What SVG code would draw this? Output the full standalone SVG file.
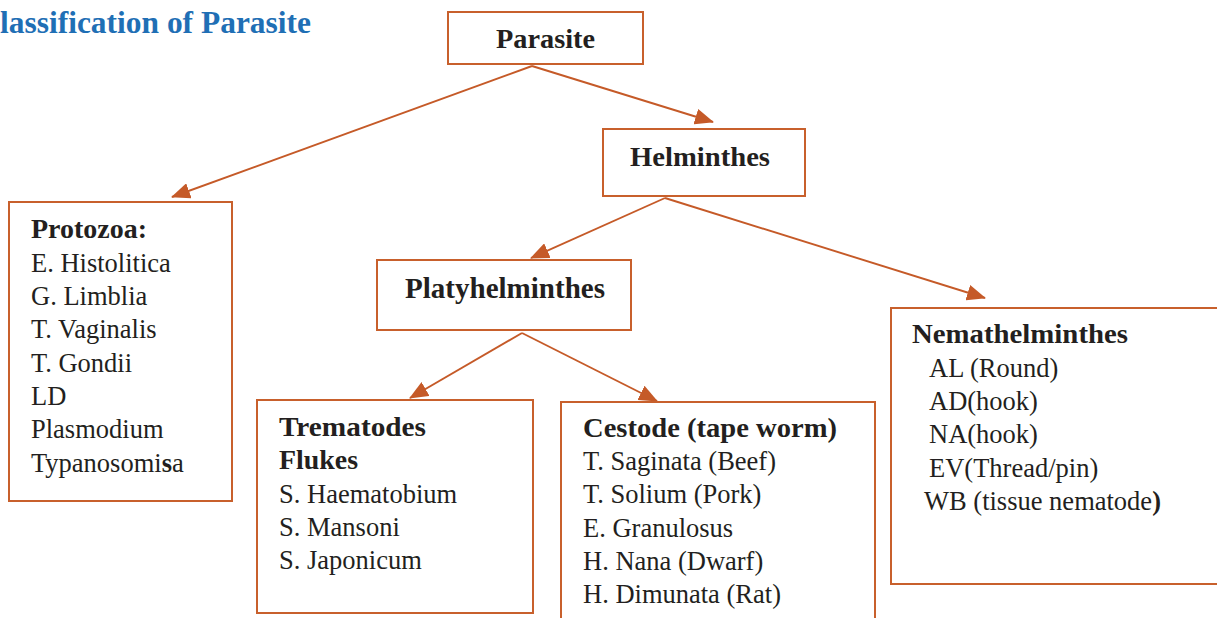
<svg xmlns="http://www.w3.org/2000/svg" width="1217" height="618" viewBox="0 0 1217 618">
<style>
.box{fill:#fff;stroke:#c8602c;stroke-width:2}
.t{font-family:"Liberation Serif",serif;font-size:26.5px;fill:#231f20}
.b{font-weight:bold}
.title{font-family:"Liberation Serif",serif;font-size:31px;font-weight:bold;fill:#1f6fb5}
.c{fill:none;stroke:#c55a28;stroke-width:1.9}
</style>
<defs>
<marker id="ah" markerUnits="userSpaceOnUse" markerWidth="20" markerHeight="16" refX="18" refY="8" orient="auto">
<path d="M0,0 L19,8 L0,16 Z" fill="#c55a28"/>
</marker>
</defs>
<rect width="1217" height="618" fill="#fff"/>
<text class="title" x="0" y="33" textLength="311" lengthAdjust="spacingAndGlyphs">lassification of Parasite</text>

<g id="connectors">
<line class="c" x1="532" y1="66" x2="172" y2="197" marker-end="url(#ah)"/>
<line class="c" x1="532" y1="66" x2="713" y2="122" marker-end="url(#ah)"/>
<line class="c" x1="665" y1="198" x2="531" y2="258" marker-end="url(#ah)"/>
<line class="c" x1="665" y1="198" x2="985" y2="298" marker-end="url(#ah)"/>
<line class="c" x1="522" y1="333" x2="410" y2="398" marker-end="url(#ah)"/>
<line class="c" x1="522" y1="333" x2="657" y2="401" marker-end="url(#ah)"/>
</g>

<g id="parasite">
<rect class="box" x="448" y="12" width="195" height="52"/>
<text class="t b" x="496" y="48" textLength="99" lengthAdjust="spacingAndGlyphs" style="font-size:27px">Parasite</text>
</g>

<g id="helminthes">
<rect class="box" x="603" y="129" width="202" height="67"/>
<text class="t b" x="630" y="166" textLength="140" lengthAdjust="spacingAndGlyphs" style="font-size:27px">Helminthes</text>
</g>

<g id="protozoa">
<rect class="box" x="9" y="202" width="223" height="299"/>
<text class="t b" x="31" y="238" textLength="116" lengthAdjust="spacingAndGlyphs">Protozoa:</text>
<text class="t" x="31" y="272">E. Histolitica</text>
<text class="t" x="31" y="305">G. Limblia</text>
<text class="t" x="31" y="338">T. Vaginalis</text>
<text class="t" x="31" y="372">T. Gondii</text>
<text class="t" x="31" y="405">LD</text>
<text class="t" x="31" y="438">Plasmodium</text>
<text class="t" x="31" y="472">Typanosomi<tspan class="b">s</tspan>a</text>
</g>

<g id="platyhelminthes">
<rect class="box" x="377" y="260" width="254" height="70"/>
<text class="t b" x="405" y="298" textLength="200" lengthAdjust="spacingAndGlyphs" style="font-size:29px">Platyhelminthes</text>
</g>

<g id="nemathelminthes">
<rect class="box" x="891" y="308" width="340" height="276"/>
<text class="t b" x="912" y="343" textLength="216" lengthAdjust="spacingAndGlyphs">Nemathelminthes</text>
<text class="t" x="929" y="377">AL (Round)</text>
<text class="t" x="929" y="410">AD(hook)</text>
<text class="t" x="929" y="443">NA(hook)</text>
<text class="t" x="929" y="477">EV(Thread/pin)</text>
<text class="t" x="924" y="510">WB (tissue nematode<tspan class="b">)</tspan></text>
</g>

<g id="trematodes">
<rect class="box" x="257" y="400" width="276" height="213"/>
<text class="t b" x="279" y="436" textLength="147" lengthAdjust="spacingAndGlyphs">Trematodes</text>
<text class="t b" x="279" y="469" textLength="79" lengthAdjust="spacingAndGlyphs">Flukes</text>
<text class="t" x="279" y="503">S. Haematobium</text>
<text class="t" x="279" y="536">S. Mansoni</text>
<text class="t" x="279" y="569">S. Japonicum</text>
</g>

<g id="cestode">
<rect class="box" x="561" y="402" width="314" height="230"/>
<text class="t b" x="583" y="437" textLength="254" lengthAdjust="spacingAndGlyphs">Cestode (tape worm)</text>
<text class="t" x="583" y="470">T. Saginata (Beef)</text>
<text class="t" x="583" y="503">T. Solium (Pork)</text>
<text class="t" x="583" y="537">E. Granulosus</text>
<text class="t" x="583" y="570">H. Nana (Dwarf)</text>
<text class="t" x="583" y="603">H. Dimunata (Rat)</text>
</g>
</svg>
